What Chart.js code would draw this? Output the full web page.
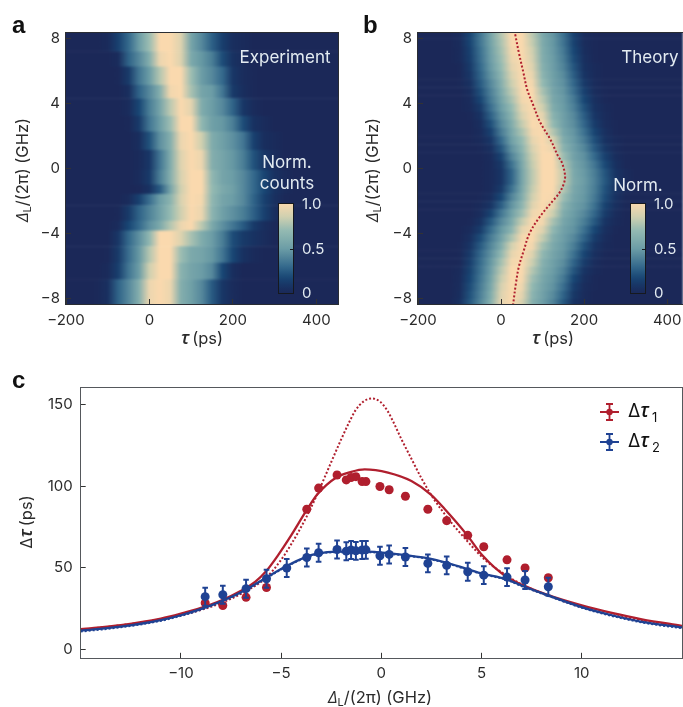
<!DOCTYPE html>
<html>
<head>
<meta charset="utf-8">
<script src="https://cdn.jsdelivr.net/npm/chart.js@4"></script>
<style>
  html, body { margin: 0; background: #fff; }
  #page { position: relative; width: 683px; height: 707px; overflow: hidden; }
  canvas { position: absolute; }
  .letter { position: absolute; font: bold 24px "Liberation Sans"; color: #111; line-height: 24px; }
</style>
</head>
<body>
<div id="page">
  <canvas id="chartA" width="345" height="355" style="left:0;top:0;width:345px;height:355px"></canvas>
  <canvas id="chartB" width="338" height="355" style="left:345px;top:0;width:338px;height:355px"></canvas>
  <canvas id="chartC" width="683" height="352" style="left:0;top:355px;width:683px;height:352px"></canvas>
  <div class="letter" style="left:12px;top:13px">a</div>
  <div class="letter" style="left:363px;top:13px">b</div>
  <div class="letter" style="left:12px;top:368px">c</div>
</div>
<script>
// tau columns of both heatmaps, ps (rows may stop early, the rest is 0)
const tauGrid = [-150, -125, -100, -75, -50, -25, 0, 25, 50, 75, 100, 125, 150, 175, 200, 225, 250, 275, 300, 325, 350];
const heatTicksX = [-200, 0, 200, 400];
const heatTicksY = [-8, -4, 0, 4, 8];

// panel a, row edges in GHz and counts in percent
const expEdges = [8.33, 7.2, 6.27, 5.14, 4.32, 3.24, 2.28, 1.15, -0.08, -0.98, -1.55, -2.25, -3.2, -3.8, -4.76, -5.78, -6.8, -8.33];
const expCounts = [
  [0,0,2,15,30,50,72,100,100,90,55,42,27,14,5,2],
  [0,0,0,3,28,42,62,95,100,90,58,48,38,20,8,3],
  [0,0,0,1,12,35,50,78,100,100,72,50,42,30,10,4,1],
  [0,0,0,0,5,28,42,62,97,100,75,55,50,35,12,5,1],
  [0,0,0,0,3,18,38,55,80,100,92,60,50,42,28,10,3],
  [0,0,0,0,1,12,35,50,72,100,100,68,52,48,38,20,7,3],
  [0,0,0,0,0,5,22,45,62,95,100,85,60,52,45,35,15,5,2],
  [0,0,0,0,0,2,10,35,60,90,100,95,62,55,48,38,22,10,4],
  [0,0,0,0,0,3,12,38,62,88,100,100,68,55,50,42,30,17,7,2],
  [0,0,0,0,0,1,8,25,55,85,100,100,70,58,52,42,30,18,8,2],
  [0,0,0,0,3,15,32,50,65,88,100,98,68,55,50,42,28,15,6,1],
  [0,0,0,1,12,28,40,52,70,85,100,95,66,52,45,38,27,15,5,1],
  [0,0,0,3,18,30,45,58,78,95,100,80,58,45,35,25,12,5,1],
  [0,0,0,10,30,45,68,100,100,90,75,60,50,38,20,12,8,4],
  [0,0,1,12,32,48,78,100,100,72,58,55,48,35,18,7,2],
  [0,0,2,14,35,50,85,100,100,65,55,50,42,18,5],
  [0,1,6,28,42,62,95,100,95,62,52,42,25,10,3],
];

// panel b
const theoryEdges = [8.5, 8, 7.5, 7, 6.5, 6, 5.5, 5, 4.5, 4, 3.5, 3, 2.5, 2, 1.5, 1, 0.5, 0, -0.5, -1, -1.5, -2, -2.5, -3, -3.5, -4, -4.5, -5, -5.5, -6, -6.5, -7, -7.5, -8, -8.5];
const theoryCounts = [
  [0,0,3,17,35,55,78,100,100,80,58,47,33,15,4,1],
  [0,0,3,17,35,54,76,99,100,82,59,48,34,16,4,1],
  [0,0,2,15,33,52,74,97,100,85,60,49,36,18,5,1],
  [0,0,2,14,32,51,72,95,100,87,61,50,38,20,6,1],
  [0,0,1,12,30,49,70,92,100,90,63,51,40,23,7,2],
  [0,0,1,10,28,46,66,88,100,94,66,52,43,26,9,2],
  [0,0,1,7,25,42,62,84,100,97,70,53,45,29,12,3],
  [0,0,0,5,21,39,58,80,99,100,75,55,47,32,15,4,1],
  [0,0,0,3,17,36,54,75,97,100,80,57,49,36,18,6,1],
  [0,0,0,2,12,32,50,70,93,100,85,60,50,39,22,8,2],
  [0,0,0,1,8,27,46,65,88,100,92,65,52,42,26,10,3],
  [0,0,0,0,5,21,42,60,82,100,98,70,53,44,29,13,4,1],
  [0,0,0,0,3,15,37,56,76,97,100,78,56,47,33,17,6,1],
  [0,0,0,0,2,10,30,52,70,93,100,88,60,49,37,21,8,2],
  [0,0,0,0,1,6,23,46,65,88,100,95,65,51,41,25,11,3],
  [0,0,0,0,0,3,16,40,60,84,100,100,72,53,45,30,15,5,1],
  [0,0,0,0,0,2,11,33,57,82,100,100,78,56,47,35,19,7,1],
  [0,0,0,0,0,2,9,28,55,80,100,100,82,58,49,38,23,9,2],
  [0,0,0,0,0,2,9,28,55,80,100,100,82,59,50,39,24,10,2],
  [0,0,0,0,0,2,12,33,57,82,100,100,78,57,49,38,22,9,2],
  [0,0,0,0,1,5,18,40,60,85,100,99,72,55,48,36,20,8,1],
  [0,0,0,0,2,9,26,46,66,90,100,92,65,52,46,33,16,6,1],
  [0,0,0,0,4,16,35,52,73,96,100,84,60,50,42,29,13,4],
  [0,0,0,1,8,24,42,58,82,100,97,75,56,48,38,24,9,2],
  [0,0,0,3,13,31,48,66,92,100,90,68,53,46,33,18,6,1],
  [0,0,0,6,20,37,53,76,98,100,82,62,51,42,28,13,4],
  [0,0,1,9,25,41,60,86,100,97,74,58,49,38,22,9,2],
  [0,0,1,12,29,45,68,93,100,90,68,55,47,33,17,6,1],
  [0,0,1,14,31,48,74,97,100,84,63,52,44,28,13,4],
  [0,0,2,16,33,51,79,100,100,78,60,50,40,23,9,2],
  [0,0,3,18,35,54,83,100,99,73,57,48,36,18,6,1],
  [0,0,4,20,37,57,87,100,96,69,55,46,32,14,4,1],
  [0,0,5,22,39,60,90,100,92,66,53,43,28,11,3],
  [0,0,7,24,41,63,93,100,88,63,51,40,24,8,2],
];
const ridgeDetuning = [8.25, 7.1, 5.87, 4.85, 3.93, 2.8, 1.78, 0.78, 0.4, 0, -0.3, -0.6, -1, -1.5, -2, -3, -4, -5, -6, -7, -8.33];
const ridgeTau = [34, 43, 54, 63, 77, 95, 119, 137, 146, 151, 153.5, 154, 150, 140, 124, 92, 68, 55, 43, 36, 29];

// panel c
const detuning = [-8.79, -7.91, -6.75, -5.73, -4.72, -3.72, -3.13, -2.21, -1.75, -1.51, -1.27, -0.96, -0.77, -0.07, 0.39, 1.2, 2.32, 3.26, 4.31, 5.11, 6.27, 7.17, 8.33];
const dt1 = [28.5, 27, 32, 38, null, 86, 99, 107, 104, 105.5, 106, 103, 103, 100, 98, 94, 86, 79, 70, 63, 55, 50, 44];
const dt1Err = [1.5, 1.5, 1.5, 1.5, 0, 1.5, 1.5, 1.5, 1.5, 1.5, 1.5, 1.5, 1.5, 1.5, 1.5, 1.5, 1.5, 1.5, 1.5, 1.5, 1.5, 1.5, 1.5];
const dt2 = [32.4, 33.6, 37.3, 43.4, 50, 56.4, 59.3, 61.3, 60.3, 61, 60.5, 61, 61.1, 57.5, 58.3, 56.7, 52.8, 51.6, 47.7, 45.6, 44.4, 42.6, 38.5];
const dt2Err = [5.5, 5.5, 5.5, 5.5, 5.5, 5.5, 5.5, 5.5, 5.5, 5.5, 5.5, 5.5, 5.5, 5.5, 5.5, 5.5, 5.5, 5.5, 5.5, 5.5, 5.5, 5.5, 5.5];

const red1X = [-15, -13, -11, -10, -9, -8, -7, -6.3, -5.75, -5.2, -4.5, -3.75, -3.2, -2.25, -1.5, -0.83, 0.33, 1.5, 2.47, 3.17, 4.25, 5.05, 6.2, 7.08, 8.25, 10, 11.5, 13, 15];
const red1Y = [12.5, 15, 19, 22, 25.5, 30, 36, 41.5, 48, 57, 70, 85, 95, 105.5, 109, 110.5, 108.5, 103.3, 95, 86, 70.6, 57.6, 44.9, 39.3, 33.6, 27, 22.4, 18.5, 14.5];
const redDotX = [-15, -12, -10, -8.8, -7.8, -6.8, -5.75, -5, -4.5, -3.75, -3.17, -2.5, -2, -1.6, -1.3, -0.9, -0.48, -0.06, 0.3, 0.6, 1, 1.5, 2, 2.58, 3.5, 4.25, 5.17, 6.17, 7, 8.25, 10, 12, 15];
const redDotY = [12, 16.5, 21, 25, 29.5, 35.5, 44, 55, 64.5, 81, 96, 115, 129, 139.5, 146.5, 152, 154, 152, 146.5, 139.5, 129, 117, 105, 93, 77.7, 67, 55, 46, 40, 33.5, 26, 20, 14];
const blue1X = [-15, -13, -11, -10, -8.83, -7.8, -6.78, -5.75, -4.75, -3.75, -3.2, -2.2, -0.75, 0.4, 1.25, 2.3, 3.17, 4.25, 5.05, 6.2, 7.08, 8.25, 10, 11.5, 13, 15];
const blue1Y = [11.5, 14, 18, 21, 25.5, 30.5, 36.5, 44, 51, 56.8, 58.8, 60, 60, 59, 57.8, 56, 53.5, 49.5, 46.5, 43.2, 38.8, 33.5, 26, 21, 17, 13.5];
const blueDotY = [11, 13.6, 17.6, 20.6, 25.2, 30.2, 36.2, 43.7, 50.7, 56.5, 58.5, 59.7, 59.7, 58.7, 57.5, 55.7, 53.2, 49.2, 46.2, 42.9, 38.5, 33.2, 25.6, 20.6, 16.6, 13];
const lagTicksX = [-10, -5, 0, 5, 10];
const lagTicksY = [0, 50, 100, 150];

const RED = '#b01f2e';
const BLUE = '#1f4293';
const SANS = 'Inter';
const LIGHT = '#e3ebf1';

const stops = [
  [0, [27, 40, 88]], [0.08, [24, 50, 98]], [0.18, [24, 70, 116]], [0.3, [52, 105, 140]],
  [0.5, [108, 157, 166]], [0.7, [148, 186, 178]], [0.85, [208, 208, 176]], [1, [250, 217, 174]],
];
function colormap(v) {
  for (let i = 1; i < stops.length; i++) {
    if (v <= stops[i][0]) {
      const [a, ca] = stops[i - 1], [b, cb] = stops[i];
      const t = (v - a) / (b - a);
      return `rgb(${ca.map((c, k) => Math.round(c + (cb[k] - c) * t)).join(',')})`;
    }
  }
  return 'rgb(250,217,174)';
}

// draws the rows, soft between rows like the reference
const heatPlugin = {
  id: 'heat',
  beforeDatasetsDraw(chart, args, opts) {
    const { ctx, chartArea: area, scales: { x, y } } = chart;
    const off = document.createElement('canvas');
    off.width = chart.width; off.height = chart.height;
    const o = off.getContext('2d');
    const x0 = x.getPixelForValue(tauGrid[0]);
    const x1 = x.getPixelForValue(tauGrid[tauGrid.length - 1]);
    opts.rows.forEach((row, i) => {
      const g = o.createLinearGradient(x0, 0, x1, 0);
      tauGrid.forEach((tau, k) => {
        g.addColorStop((x.getPixelForValue(tau) - x0) / (x1 - x0), colormap((row[k] || 0) / 100));
      });
      let top = y.getPixelForValue(opts.edges[i]);
      let bottom = y.getPixelForValue(opts.edges[i + 1]);
      if (i === 0) top -= 10;
      if (i === opts.rows.length - 1) bottom += 10;
      o.fillStyle = g;
      o.fillRect(area.left - 10, top, area.width + 20, bottom - top + 0.5);
    });
    ctx.save();
    ctx.beginPath();
    ctx.rect(area.left, area.top, area.width, area.height);
    ctx.clip();
    ctx.filter = 'blur(1.1px)';
    ctx.drawImage(off, 0, 0);
    ctx.restore();
  },
};

function drawRuns(ctx, runs, x, y, rot, align) {
  ctx.save();
  ctx.translate(x, y);
  if (rot) ctx.rotate(-Math.PI / 2);
  ctx.textBaseline = 'alphabetic';
  ctx.textAlign = 'left';
  let w = 0;
  runs.forEach(r => { ctx.font = r.font; w += ctx.measureText(r.t).width + (r.gap || 0); });
  let cx = align === 'left' ? 0 : -w / 2;
  runs.forEach(r => {
    ctx.font = r.font;
    ctx.fillStyle = r.color || '#2b2b2b';
    ctx.fillText(r.t, cx, r.dy || 0);
    cx += ctx.measureText(r.t).width + (r.gap || 0);
  });
  ctx.restore();
}

const textPlugin = {
  id: 'labels',
  afterDraw(chart, args, opts) {
    opts.items.forEach(it => drawRuns(chart.ctx, it.runs, it.x, it.y, it.rot, it.align));
  },
};

const framePlugin = {
  id: 'frame',
  afterDatasetsDraw(chart, args, opts) {
    const { ctx, chartArea: a } = chart;
    ctx.save();
    ctx.strokeStyle = opts.color;
    ctx.lineWidth = 1;
    ctx.strokeRect(Math.round(a.left) - 0.5, Math.round(a.top) - 0.5, Math.round(a.width) + 1, Math.round(a.height) + 1);
    ctx.restore();
  },
};

const colorbarPlugin = {
  id: 'colorbar',
  afterDatasetsDraw(chart, args, opts) {
    const { ctx } = chart;
    const { left, right, top, bottom } = opts;
    const g = ctx.createLinearGradient(0, bottom, 0, top);
    for (let i = 0; i <= 20; i++) g.addColorStop(i / 20, colormap(i / 20));
    ctx.save();
    ctx.fillStyle = g;
    ctx.fillRect(left, top, right - left, bottom - top);
    ctx.strokeStyle = '#16191f';
    ctx.lineWidth = 1;
    ctx.strokeRect(left + 0.5, top + 0.5, right - left - 1, bottom - top - 1);
    const mid = Math.round((top + bottom) / 2) + 0.5;
    ctx.beginPath();
    ctx.moveTo(right - 4, mid);
    ctx.lineTo(right, mid);
    ctx.stroke();
    ctx.fillStyle = LIGHT;
    ctx.font = `15px ${SANS}`;
    ctx.textBaseline = 'middle';
    ctx.textAlign = 'left';
    ctx.fillText('1.0', right + 8, top + 1);
    ctx.fillText('0.5', right + 8, mid);
    ctx.fillText('0', right + 8, bottom - 1);
    ctx.restore();
  },
};

// error bars go right after their own points so blue stays on top of red
const errorPlugin = {
  id: 'errors',
  afterDatasetDraw(chart, args) {
    const ds = chart.data.datasets[args.index];
    if (!ds.errs) return;
    const { ctx, scales: { x, y } } = chart;
    ctx.save();
    ctx.strokeStyle = ds.backgroundColor;
    ctx.lineWidth = 2;
    ds.data.forEach((p, i) => {
      if (p.y === null || !ds.errs[i]) return;
      const px = x.getPixelForValue(p.x);
      const hi = y.getPixelForValue(p.y + ds.errs[i]);
      const lo = y.getPixelForValue(p.y - ds.errs[i]);
      ctx.beginPath();
      ctx.moveTo(px, hi); ctx.lineTo(px, lo);
      ctx.moveTo(px - 2.8, hi); ctx.lineTo(px + 2.8, hi);
      ctx.moveTo(px - 2.8, lo); ctx.lineTo(px + 2.8, lo);
      ctx.stroke();
    });
    ctx.restore();
  },
};

const legendPlugin = {
  id: 'keyC',
  afterDraw(chart, args, opts) {
    const { ctx } = chart;
    opts.items.forEach(it => {
      ctx.save();
      ctx.strokeStyle = it.color;
      ctx.fillStyle = it.color;
      ctx.lineWidth = 1.8;
      ctx.beginPath();
      ctx.moveTo(it.x, it.y); ctx.lineTo(it.x + 19, it.y);
      ctx.moveTo(it.x + 9.5, it.y - 8); ctx.lineTo(it.x + 9.5, it.y + 8);
      ctx.moveTo(it.x + 6, it.y - 8); ctx.lineTo(it.x + 13, it.y - 8);
      ctx.moveTo(it.x + 6, it.y + 8); ctx.lineTo(it.x + 13, it.y + 8);
      ctx.stroke();
      ctx.beginPath();
      ctx.arc(it.x + 9.5, it.y, 3.2, 0, Math.PI * 2);
      ctx.fill();
      ctx.restore();
      drawRuns(ctx, [
        { t: 'Δ', font: `18px ${SANS}`, color: '#111' },
        { t: 'τ', font: `italic 600 19px "Open Sans"`, color: '#111', gap: 3 },
        { t: it.sub, font: `13px ${SANS}`, color: '#111', dy: 5 },
      ], it.x + 28, it.y + 5, false, 'left');
    });
  },
};

function minus(v) { return String(v).replace('-', '\u2212'); }

function axis(ticks, min, max, extent, pad) {
  return {
    type: 'linear',
    min, max,
    afterBuildTicks: s => { s.ticks = ticks.map(value => ({ value })); },
    afterFit: s => {
      if (s.isHorizontal()) s.height = extent; else s.width = extent;
      // tick labels may hang over, keep the plot box where it is
      s.paddingLeft = s.paddingRight = s.paddingTop = s.paddingBottom = 0;
    },
    grid: { drawOnChartArea: false, drawTicks: true, tickLength: -5, color: '#333', z: 1 },
    border: { display: false },
    ticks: {
      autoSkip: false, maxRotation: 0, padding: pad, color: '#2b2b2b',
      font: { family: SANS, size: 15 },
      callback: v => minus(v),
    },
  };
}

const detRuns = [
  { t: 'Δ', font: `italic 17px "Open Sans"` },
  { t: 'L', font: `11px ${SANS}`, dy: 3 },
  { t: '/(2π) (GHz)', font: `16.5px ${SANS}` },
];
const detLabel = (x, y) => ({ x, y, rot: true, runs: detRuns });
const tauLabel = (x, y) => ({
  x, y,
  runs: [
    { t: 'τ', font: `italic 600 18px "Open Sans"`, gap: 3 },
    { t: '(ps)', font: `16.5px ${SANS}` },
  ],
});
const note = (t, x, y) => ({ x, y, runs: [{ t, font: `17px ${SANS}`, color: LIGHT }] });

new Chart(document.getElementById('chartA'), {
  type: 'scatter',
  data: { datasets: [] },
  plugins: [heatPlugin, framePlugin, colorbarPlugin, textPlugin],
  options: {
    responsive: false, animation: false, events: [],
    layout: { autoPadding: false, padding: { top: 33, right: 7 } },
    scales: {
      x: axis(heatTicksX, -200, 452, 51, 12),
      y: axis(heatTicksY, -8.31, 8.33, 66, 11),
    },
    plugins: {
      legend: { display: false },
      tooltip: { enabled: false },
      heat: { rows: expCounts, edges: expEdges },
      frame: { color: '#2a2d33' },
      colorbar: { left: 278, right: 294, top: 203, bottom: 294 },
      labels: {
        items: [
          detLabel(28, 170), tauLabel(202, 344),
          note('Experiment', 285, 63), note('Norm.', 287, 168), note('counts', 287, 189),
        ],
      },
    },
  },
});

new Chart(document.getElementById('chartB'), {
  type: 'scatter',
  data: {
    datasets: [{
      data: ridgeTau.map((t, i) => ({ x: t, y: ridgeDetuning[i] })),
      showLine: true, tension: 0.35, pointRadius: 0,
      borderColor: RED, borderWidth: 2, borderDash: [2, 2],
    }],
  },
  plugins: [heatPlugin, framePlugin, colorbarPlugin, textPlugin],
  options: {
    responsive: false, animation: false, events: [],
    layout: { autoPadding: false, padding: { top: 33, right: 0 } },
    scales: {
      x: axis(heatTicksX, -200, 438, 51, 12),
      y: axis(heatTicksY, -8.31, 8.33, 73, 11),
    },
    plugins: {
      legend: { display: false },
      tooltip: { enabled: false },
      heat: { rows: theoryCounts, edges: theoryEdges },
      frame: { color: '#2a2d33' },
      colorbar: { left: 285, right: 301, top: 203, bottom: 294 },
      labels: {
        items: [
          detLabel(33, 170), tauLabel(208, 344),
          note('Theory', 305, 63), note('Norm.', 293, 191),
        ],
      },
    },
  },
});

const toPoints = (xs, ys) => xs.map((x, i) => ({ x, y: ys[i] }));
const curve = (xs, ys, color, dash, order) => ({
  type: 'line', data: toPoints(xs, ys), order,
  borderColor: color, borderWidth: dash ? 2 : 2.3, borderDash: dash ? [2, 2] : [],
  pointRadius: 0, cubicInterpolationMode: 'monotone',
});
const marks = (ys, errs, color, order) => ({
  type: 'scatter', data: toPoints(detuning, ys), errs, order,
  backgroundColor: color, borderColor: color, pointRadius: 4.5, pointBorderWidth: 0,
});

new Chart(document.getElementById('chartC'), {
  type: 'scatter',
  data: {
    datasets: [
      marks(dt2, dt2Err, BLUE, 1),
      curve(blue1X, blue1Y, BLUE, false, 2),
      marks(dt1, dt1Err, RED, 3),
      curve(blue1X, blueDotY, BLUE, true, 4),
      curve(redDotX, redDotY, RED, true, 5),
      curve(red1X, red1Y, RED, false, 6),
    ],
  },
  plugins: [errorPlugin, framePlugin, legendPlugin, textPlugin],
  options: {
    responsive: false, animation: false, events: [],
    layout: { autoPadding: false, padding: { top: 33.3, right: 1 } },
    scales: {
      x: axis(lagTicksX, -15, 15, 49.2, 12),
      y: axis(lagTicksY, -5.1, 160.2, 80.7, 13),
    },
    plugins: {
      legend: { display: false },
      tooltip: { enabled: false },
      frame: { color: '#55585c' },
      keyC: {
        items: [
          { x: 600, y: 57, color: RED, sub: '1' },
          { x: 600, y: 87, color: BLUE, sub: '2' },
        ],
      },
      labels: {
        items: [
          {
            x: 32, y: 167, rot: true,
            runs: [
              { t: 'Δ', font: `16.5px ${SANS}` },
              { t: 'τ', font: `italic 600 18px "Open Sans"`, gap: 3 },
              { t: '(ps)', font: `16.5px ${SANS}` },
            ],
          },
          { x: 380, y: 348, runs: detRuns },
        ],
      },
    },
  },
});
</script>
</body>
</html>
